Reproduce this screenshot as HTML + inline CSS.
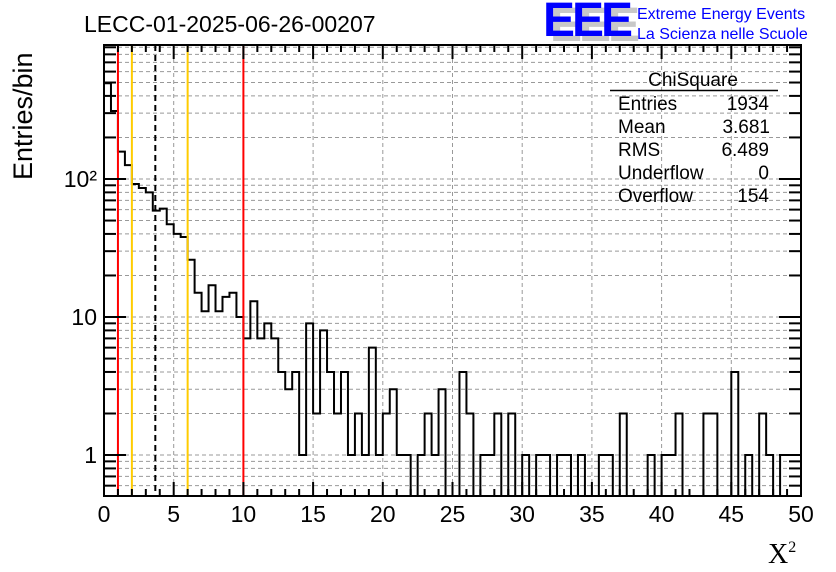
<!DOCTYPE html>
<html><head><meta charset="utf-8"><style>
body{margin:0;background:#fff}
svg{display:block;font-family:"Liberation Sans",sans-serif}
</style></head><body>
<svg id="chart" width="836" height="572" xmlns="http://www.w3.org/2000/svg">
<rect width="836" height="572" fill="#fff"/>
<g id="grid"></g>
<g id="marks"></g>
<g id="axes"></g>
<text x="84" y="32" font-size="23">LECC-01-2025-06-26-00207</text>
<g>
<text x="550" y="41" font-size="48" font-weight="bold" fill="#c8c8c8" letter-spacing="-3">EEE</text>
<text x="543" y="36" font-size="48" font-weight="bold" fill="#0000ff" letter-spacing="-3">EEE</text>
<text x="637" y="19" font-size="16" fill="#0000ff">Extreme Energy Events</text>
<text x="637" y="39" font-size="16" fill="#0000ff">La Scienza nelle Scuole</text>
</g>
<g font-size="19">
<text x="693" y="86" text-anchor="middle">ChiSquare</text>
<line x1="610" y1="90.5" x2="778" y2="90.5" stroke="#000" stroke-width="1.5"/>
<text x="618" y="110">Entries</text><text x="769" y="110" text-anchor="end">1934</text>
<text x="618" y="133">Mean</text><text x="770" y="133" text-anchor="end">3.681</text>
<text x="618" y="156">RMS</text><text x="769" y="156" text-anchor="end">6.489</text>
<text x="618" y="179">Underflow</text><text x="769" y="179" text-anchor="end">0</text>
<text x="618" y="202">Overflow</text><text x="769" y="202" text-anchor="end">154</text>
</g>
<text transform="translate(32,180) rotate(-90)" font-size="27">Entries/bin</text>
<text x="768" y="563" font-size="28" font-family="Liberation Serif,serif">X<tspan font-size="16" dy="-11">2</tspan></text>
</svg>
<script>
const counts=[494,311,158,126,92,86,80,59,61,47,40,38,26,15,11,17,11,14,15,10,7,13,7,9,7,4,3,4,1,9,2,8,4,2,4,1,2,1,6,1,2,3,1,1,0,1,2,1,3,0,0,4,2,0,1,1,2,0,2,0,1,0,1,1,0,1,1,0,1,0,0,1,1,0,2,0,0,0,1,0,1,1,2,0,0,0,2,2,0,0,4,0,1,0,2,1,0,1,1,1];
const binWidth=0.5;
const xTicks=[0,5,10,15,20,25,30,35,40,45,50];
const yTicks=[1,10,100];
const yTickLabels=["1","10","10²"];
const redLines=[1,10];
const orangeLines=[2,6];
const meanValue=3.681;
const L=104,R=801,T=45,B=496,xMin=0,xMax=50,yMin=0.505,yMax=935;
const NS="http://www.w3.org/2000/svg";
function X(v){return L+(v-xMin)/(xMax-xMin)*(R-L);}
function Y(v){if(v<=yMin)return B;return B-(Math.log10(v)-Math.log10(yMin))/(Math.log10(yMax)-Math.log10(yMin))*(B-T);}
function mk(tag,attrs,parent){const e=document.createElementNS(NS,tag);for(const k in attrs)e.setAttribute(k,attrs[k]);parent.appendChild(e);return e;}
const grid=document.getElementById('grid'),marks=document.getElementById('marks'),axes=document.getElementById('axes');
xTicks.forEach(t=>{if(t>xMin&&t<xMax){const l=mk('line',{x1:X(t),x2:X(t),y1:T,y2:B,stroke:'#999','stroke-dasharray':'4,3','stroke-width':1},grid);

}});
const minorY=[];
for(let d=0.1;d<=1000;d*=10){for(let m=1;m<10;m++){const v=m*d;if(v>yMin&&v<yMax)minorY.push(v);}}
minorY.forEach(v=>{const l=mk('line',{x1:L,x2:R,y1:Y(v),y2:Y(v),stroke:'#999','stroke-dasharray':'4,3','stroke-width':1},grid);

});
let d='M'+X(0)+','+B;
counts.forEach((c,i)=>{const y=Y(c);d+=' L'+X(i*binWidth)+','+y+' L'+X((i+1)*binWidth)+','+y;});
d+=' L'+X(counts.length*binWidth)+','+B;
const h=mk('path',{d:d,fill:'none',stroke:'#000','stroke-width':2},marks);


redLines.forEach(v=>{const l=mk('line',{x1:X(v),x2:X(v),y1:T,y2:B,stroke:'#ff0000','stroke-width':2},marks);

});
orangeLines.forEach(v=>{const l=mk('line',{x1:X(v),x2:X(v),y1:T,y2:B,stroke:'#ffcc00','stroke-width':2},marks);

});
const ml=mk('line',{x1:X(meanValue),x2:X(meanValue),y1:T,y2:B,stroke:'#000','stroke-width':2,'stroke-dasharray':'6,4'},marks);


const fr=mk('rect',{x:L,y:T,width:R-L,height:B-T,fill:'none',stroke:'#000','stroke-width':2},axes);


for(let v=xMin;v<=xMax;v+=1){const major=v%5===0;const len=major?14:7;
mk('line',{x1:X(v),x2:X(v),y1:B,y2:B-len,stroke:'#000','stroke-width':2},axes);
mk('line',{x1:X(v),x2:X(v),y1:T,y2:T+len,stroke:'#000','stroke-width':2},axes);}
xTicks.forEach(t=>{const tx=mk('text',{x:X(t),y:B+26,'text-anchor':'middle','font-size':23},axes);tx.textContent=t;

});
minorY.forEach(v=>{const major=yTicks.includes(Math.round(v*1000)/1000);const len=major?22:12;
mk('line',{x1:L,x2:L+len,y1:Y(v),y2:Y(v),stroke:'#000','stroke-width':2},axes);
mk('line',{x1:R,x2:R-len,y1:Y(v),y2:Y(v),stroke:'#000','stroke-width':2},axes);});
yTicks.forEach((t,i)=>{const tx=mk('text',{x:L-7,y:Y(t)+8,'text-anchor':'end','font-size':23},axes);tx.textContent=yTickLabels[i];

});
</script>
</body></html>
